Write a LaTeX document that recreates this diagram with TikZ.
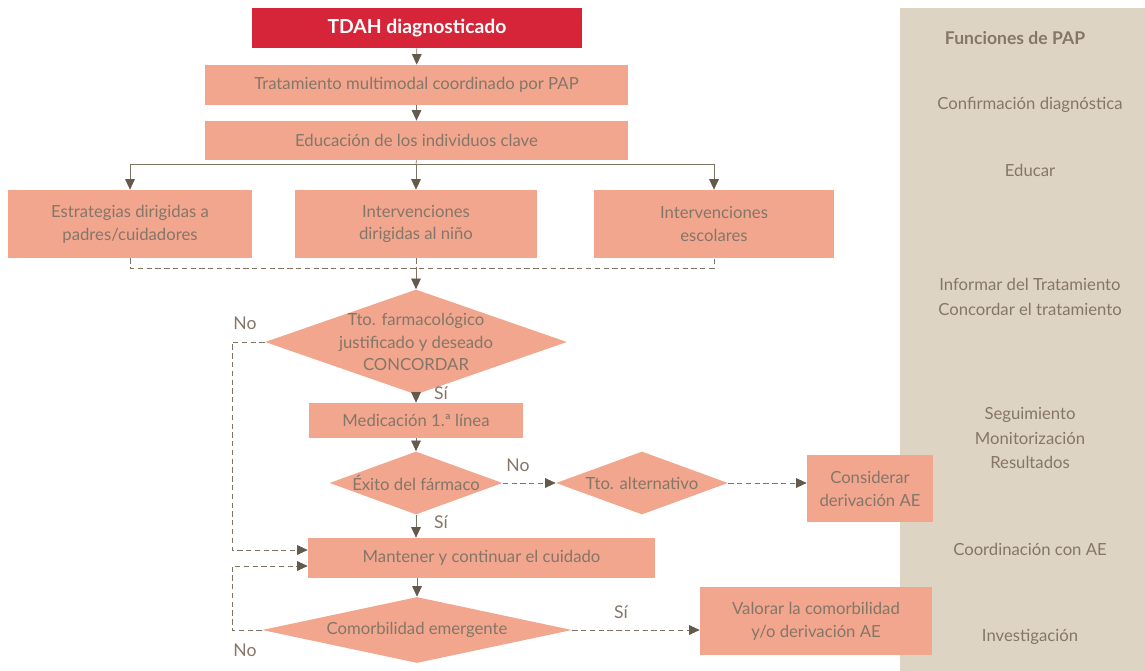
\documentclass[tikz,border=0pt]{standalone}
\usepackage{fontspec}
\setmainfont{Lato}
\usetikzlibrary{shapes.geometric,arrows.meta}
\definecolor{tdahred}{RGB}{214,36,56}
\definecolor{salmon}{RGB}{242,166,142}
\definecolor{panelbg}{RGB}{222,212,196}
\definecolor{txtgray}{RGB}{132,118,104}
\definecolor{linegray}{RGB}{125,115,100}
\definecolor{tipgray}{RGB}{100,90,76}
\tikzset{
  box/.style={fill=salmon, text=txtgray, inner sep=0pt, align=center,
    font=\fontsize{9.5}{13}\selectfont},
  dia/.style={diamond, fill=salmon, inner sep=0pt},
  diatxt/.style={text=txtgray, align=center, font=\fontsize{9.5}{13}\selectfont},
  lbl/.style={text=txtgray, font=\fontsize{10}{12}\selectfont},
  fn/.style={text=txtgray, align=center, font=\fontsize{9.5}{14}\selectfont},
  con/.style={linegray, thin},
  dcon/.style={linegray, thin, densely dashed},
  arr/.style={-{Triangle[length=6pt,width=5.5pt,fill=tipgray,color=tipgray]}},
}
\begin{document}
\begin{tikzpicture}[x=0.02cm, y=-0.02cm]
    \useasboundingbox (0,0) rectangle (1145,671);
    % panel on the right
    \fill[panelbg] (900,8) rectangle (1145,671);
    \node[fn, font=\fontsize{10}{12}\selectfont\bfseries] (f0) at (1015,38) {Funciones de PAP};
    \node[fn] (f1) at (1030,105) {Confirmación diagnóstica};
    \node[fn] (f2) at (1030,170) {Educar};
    \node[fn] (f3) at (1030,297) {Informar del Tratamiento\\Concordar el tratamiento};
    \node[fn] (f4) at (1030,438) {Seguimiento\\Monitorización\\Resultados};
    \node[fn] (f5) at (1030,549) {Coordinación con AE};
    \node[fn] (f6) at (1030,637) {Investigación};
    % boxes
    \node[box, fill=tdahred, text=white, minimum width=6.6cm, minimum height=0.8cm,
      font=\fontsize{11}{13}\selectfont\bfseries] (tdah) at (417,28) {TDAH diagnosticado};
    \node[box, minimum width=8.46cm, minimum height=0.8cm] (trat) at (416.5,85) {Tratamiento multimodal coordinado por PAP};
    \node[box, minimum width=8.46cm, minimum height=0.78cm] (edu) at (416.5,140.5) {Educación de los individuos clave};
    \node[box, minimum width=4.88cm, minimum height=1.36cm] (estr) at (130,224) {Estrategias dirigidas a\\padres/cuidadores};
    \node[box, minimum width=4.84cm, minimum height=1.36cm] (intn) at (416,224) {Intervenciones\\dirigidas al niño};
    \node[box, minimum width=4.8cm, minimum height=1.36cm] (ints) at (714,224) {Intervenciones\\escolares};
    \node[dia, minimum width=6.04cm, minimum height=2.1cm] (d1) at (416,342) {};
    \node[diatxt] (d1t) at (d1) {Tto. farmacológico\\justificado y deseado\\CONCORDAR};
    \node[box, minimum width=4.3cm, minimum height=0.7cm] (med) at (416,420.5) {Medicación 1.ª línea};
    \node[dia, minimum width=3.46cm, minimum height=1.26cm] (d2) at (416,483) {};
    \node[diatxt] (d2t) at (d2) {Éxito del fármaco};
    \node[dia, minimum width=3.44cm, minimum height=1.26cm] (d3) at (642,483) {};
    \node[diatxt] (d3t) at (d3) {Tto. alternativo};
    \node[box, minimum width=2.52cm, minimum height=1.34cm] (cons) at (870,488.5) {Considerar\\derivación AE};
    \node[box, minimum width=6.94cm, minimum height=0.8cm] (mant) at (481.5,558) {Mantener y continuar el cuidado};
    \node[dia, minimum width=6.2cm, minimum height=1.32cm] (d4) at (417,630) {};
    \node[diatxt] (d4t) at (d4) {Comorbilidad emergente};
    \node[box, minimum width=4.64cm, minimum height=1.36cm] (val) at (816,621) {Valorar la comorbilidad\\y/o derivación AE};
    % connectors
    \coordinate (j1) at (416,164);
    \coordinate (jl) at (130,164);
    \coordinate (jr) at (714,164);
    \coordinate (kl) at (130,268);
    \coordinate (kc) at (416,268);
    \coordinate (kr) at (714,268);
    \draw[con,arr] (tdah) -- (trat);
    \draw[con,arr] (trat) -- (edu);
    \draw[con] (edu.south) -- (j1);
    \draw[con] (jl) -- (jr);
    \draw[con,arr] (jl) -- (estr.north);
    \draw[con,arr] (j1) -- (intn.north);
    \draw[con,arr] (jr) -- (ints.north);
    \draw[dcon] (estr.south) -- (kl) -- (kr) -- (ints.south);
    \draw[dcon] (intn.south) -- (kc);
    \draw[con,arr] (kc) -- (d1.north);
    \draw[con,arr] (d1.south) -- (med.north);
    \draw[con,arr] (med.south) -- (d2.north);
    \draw[dcon,arr] (d2.east) -- (d3.west);
    \draw[dcon,arr] (d3.east) -- (d3.east -| cons.west);
    \draw[con,arr] (d2.south) -- (d2.south |- mant.north);
    \draw[con,arr] (mant.south -| d4.north) -- (d4.north);
    \draw[dcon,arr] (d4.east) -- (d4.east -| val.west);
    % loops back to Mantener
    \coordinate (lA) at (232,342);
    \coordinate (lB) at (232,550);
    \coordinate (lC) at (232,630);
    \coordinate (lD) at (232,566);
    \draw[dcon,arr] (d1.west) -- (lA) -- (lB) -- (lB -| mant.west);
    \draw[dcon,arr] (d4.west) -- (lC) -- (lD) -- (lD -| mant.west);
    % labels
    \node[lbl] (no1) at (245,323) {No};
    \node[lbl] (si1) at (441,393) {Sí};
    \node[lbl] (no2) at (518,465) {No};
    \node[lbl] (si2) at (441,522) {Sí};
    \node[lbl] (si3) at (621,612) {Sí};
    \node[lbl] (no3) at (245,650) {No};
\end{tikzpicture}
\end{document}
